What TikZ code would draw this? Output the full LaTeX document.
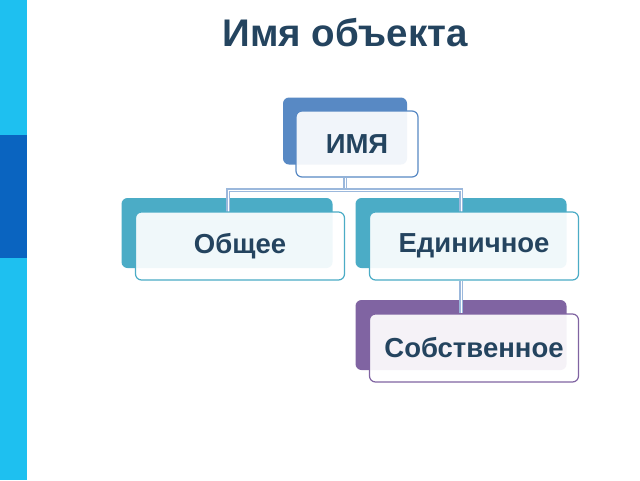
\documentclass[tikz,border=0pt]{standalone}
\usepackage{fontspec}
\setmainfont{Liberation Sans}
\definecolor{barcyan}{HTML}{1EC0F0}
\definecolor{bardark}{HTML}{0A64C0}
\definecolor{topblue}{HTML}{5889C4}
\definecolor{tealback}{HTML}{4BACC6}
\definecolor{purpback}{HTML}{8064A2}
\definecolor{txtcol}{HTML}{24445F}
\begin{document}
\begin{tikzpicture}[x=1pt,y=-1pt,
  back box/.style={rounded corners=6pt,minimum width=211pt,minimum height=70pt,inner sep=0pt},
  front box/.style={rounded corners=6pt,draw=#1,line width=1.2pt,fill=white,fill opacity=0.92,text opacity=1,
    minimum width=209pt,minimum height=68pt,font=\bfseries\fontsize{27.5}{30}\selectfont,text=txtcol},
  link/.style={draw=topblue!60,line width=2pt,double=white,double distance=0.6pt}]
\useasboundingbox (0,0) rectangle (640,480);
\fill[white] (0,0) rectangle (640,480);
\fill[barcyan] (0,0) rectangle (27,480);
\fill[bardark] (0,135) rectangle (27,258);
\node[font=\bfseries\fontsize{38.5}{42}\selectfont,text=txtcol] (title) at (345,33) {Имя объекта};
% back boxes
\node[back box,fill=topblue,minimum width=124pt,minimum height=67pt] (nameb) at (345,131) {};
\node[back box,fill=tealback] (commonb) at (227,233) {};
\node[back box,fill=tealback] (singleb) at (461,233) {};
\node[back box,fill=purpback] (ownb) at (461,335) {};
% connectors
\coordinate (fork) at (345,190);
\draw[link] (345,178) -- (fork) -- (228,190) -- (228,212);
\draw[link] (fork) -- (461,190) -- (461,212);
\draw[link] (461,281) -- (461,313);
% front boxes
\node[front box=topblue,minimum width=122pt,minimum height=66pt] (name) at (357,144) {ИМЯ};
\node[front box=tealback] (common) at (240,246) {Общее};
\node[front box=tealback] (single) at (474,246) {Единичное};
\node[front box=purpback] (own) at (474,348) {Собственное};
\end{tikzpicture}
\end{document}
